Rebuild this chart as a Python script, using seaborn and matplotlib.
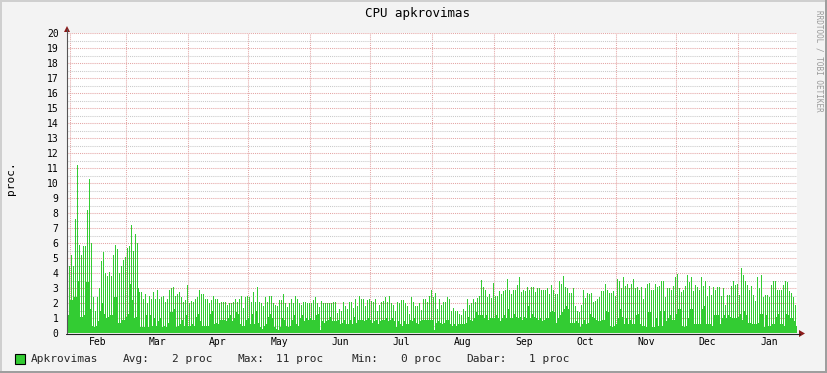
import numpy as np
import pandas as pd
import matplotlib
matplotlib.use("Agg")
import matplotlib.pyplot as plt
from matplotlib.patches import Rectangle, Polygon
import seaborn as sns

# ---------------- data (daily peak / daily base, in "proc") ----------------
peaks_feb_mar = [0.75, 4.5, 5.2, 4.5, 7.6, 11.2, 5.9, 5.2, 5.8, 5.8, 8.2, 10.3, 6.0, 2.4, 1.5, 2.4, 3.0, 4.8, 5.4, 4.0,
                 3.8, 4.1, 3.8, 5.2, 5.9, 5.6, 4.0, 4.5, 4.9, 5.1, 5.7, 5.8, 7.2, 5.5, 6.6, 6.0, 2.75, 2.75, 2.3, 2.6,
                 2.0, 2.5, 2.3, 2.75, 2.3, 2.9, 2.3, 2.4, 2.5, 2.1, 2.3, 2.9, 3.0, 3.1, 2.5, 2.6, 2.75, 2.4, 2.1, 2.2]
peaks_apr_may = [3.2, 2.0, 2.15, 2.1, 2.25, 2.4, 2.9, 2.6, 2.6, 2.25, 2.3, 2.0, 2.2, 2.5, 2.25, 2.3, 2.0, 2.1, 2.05, 2.1,
                 1.9, 2.0, 2.0, 2.05, 2.25, 2.1, 2.3, 2.5, 1.65, 2.4, 2.5, 2.4, 2.1, 2.75, 2.1, 3.1, 2.05, 2.0, 1.8, 2.4,
                 2.1, 2.5, 2.5, 2.0, 1.85, 1.8, 2.2, 2.2, 2.6, 2.0, 1.75, 2.0, 2.25, 2.0, 2.5, 2.25, 2.0, 1.9, 2.05, 2.05]
peaks_jun_jul = [2.0, 2.0, 2.0, 2.2, 2.4, 2.0, 1.75, 2.15, 2.0, 2.0, 2.0, 2.0, 2.0, 2.05, 2.1, 1.35, 1.6, 1.5, 2.05, 1.8,
                 1.6, 2.05, 2.05, 1.65, 2.25, 1.8, 2.5, 2.3, 2.25, 1.8, 2.2, 2.25, 2.15, 2.05, 2.25, 1.45, 1.85, 2.05, 2.15, 2.4,
                 2.1, 2.5, 2.0, 1.85, 1.45, 2.05, 2.0, 2.2, 2.2, 2.0, 1.8, 1.25, 2.4, 2.05, 1.8, 1.8, 2.0, 1.55, 2.25]
peaks_aug_sep = [2.25, 2.1, 2.5, 2.9, 2.4, 2.65, 1.6, 2.25, 1.85, 2.1, 2.05, 2.4, 2.25, 1.45, 1.65, 1.45, 1.5, 1.25, 1.2, 1.6,
                 1.45, 2.25, 1.85, 2.0, 2.3, 2.05, 2.35, 2.5, 3.55, 3.1, 2.85, 2.4, 2.6, 2.35, 3.35, 2.5, 2.5, 2.8, 2.6, 2.8,
                 2.9, 3.6, 2.9, 2.6, 2.9, 2.9, 3.2, 3.75, 2.75, 2.9, 2.8, 3.05, 2.85, 3.05, 3.05, 2.75, 3.0, 3.0, 2.9, 2.9]
peaks_oct_nov = [2.85, 3.0, 2.6, 3.2, 2.9, 2.6, 2.6, 3.45, 3.25, 3.8, 3.1, 3.0, 2.7, 2.65, 3.0, 1.8, 1.5, 1.4, 1.85, 2.85,
                 2.35, 2.65, 2.6, 2.65, 2.1, 2.15, 2.25, 2.4, 2.8, 2.8, 3.25, 2.9, 2.65, 2.7, 2.8, 2.5, 3.6, 3.5, 3.0, 3.75,
                 3.15, 3.25, 3.0, 3.25, 3.6, 3.0, 3.05, 2.9, 3.1, 2.25, 3.0, 3.25, 3.35, 2.9, 2.9, 3.3, 3.1, 3.15, 3.45, 3.5,
                 2.4]
peaks_dec_jan = [3.0, 3.0, 2.9, 3.15, 3.75, 3.95, 3.0, 2.75, 2.9, 3.15, 3.85, 3.4, 3.75, 2.8, 3.2, 3.1, 2.9, 3.75, 3.15, 3.5,
                 2.5, 3.15, 2.55, 3.05, 2.85, 3.05, 3.05, 2.5, 3.0, 1.9, 2.55, 2.55, 3.15, 3.5, 3.2, 3.25, 2.55, 4.35, 3.85, 3.45,
                 3.2, 2.9, 3.15, 2.55, 2.15, 3.75, 3.0, 3.85, 2.4, 2.55, 2.55, 2.4, 3.2, 3.5, 3.5, 2.85, 2.85, 2.85, 3.2, 3.5,
                 3.4, 2.8, 2.65, 2.4, 1.9]

base_feb_mar = [1.2, 2.2, 2.2, 2.4, 2.4, 3.5, 1.1, 1.1, 1.2, 3.4, 3.4, 1.6, 0.5, 0.4, 0.5, 0.8, 1.5, 2.0, 1.3, 1.0,
                1.1, 1.2, 1.2, 2.4, 2.4, 0.7, 0.7, 0.9, 0.9, 1.1, 1.3, 3.3, 2.2, 1.0, 1.1, 3.0, 0.4, 0.4, 0.4, 1.2,
                0.4, 1.2, 0.5, 1.0, 0.5, 0.8, 1.0, 0.4, 0.5, 0.4, 0.7, 1.4, 1.4, 1.6, 0.4, 0.5, 0.6, 0.9, 0.5, 1.2]
base_apr_may = [0.5, 0.5, 0.6, 0.5, 1.1, 1.3, 0.8, 0.5, 0.5, 0.5, 0.5, 1.3, 1.5, 0.6, 0.7, 0.6, 0.9, 0.9, 0.9, 0.8,
                1.0, 1.2, 0.8, 1.0, 1.4, 1.3, 0.6, 0.5, 0.5, 0.9, 1.0, 0.6, 1.3, 0.6, 1.5, 0.7, 0.4, 0.3, 0.5, 0.6,
                1.1, 1.3, 1.0, 0.4, 0.3, 0.2, 0.4, 1.0, 0.9, 0.5, 0.4, 0.5, 0.9, 1.2, 0.6, 0.5, 1.0, 1.2, 0.8, 1.0]
base_jun_jul = [0.9, 1.0, 0.9, 0.9, 1.2, 1.3, 0.2, 0.8, 0.7, 0.8, 0.9, 1.1, 0.8, 0.8, 0.8, 0.9, 0.6, 0.7, 0.9, 0.6,
                0.6, 0.9, 0.6, 1.1, 0.7, 0.9, 0.9, 0.9, 0.8, 0.9, 1.0, 0.9, 0.7, 0.8, 0.9, 0.6, 0.8, 0.9, 0.9, 1.0,
                0.8, 0.9, 1.0, 0.8, 0.4, 0.8, 0.6, 0.5, 0.8, 0.6, 0.6, 0.9, 0.8, 1.0, 0.7, 0.6, 0.8, 0.9, 0.9]
base_aug_sep = [0.9, 0.9, 0.9, 0.9, 0.2, 0.7, 0.8, 0.7, 0.6, 0.7, 0.9, 0.9, 0.6, 0.5, 0.6, 0.5, 0.6, 0.6, 0.6, 0.6,
                0.7, 1.1, 0.9, 0.8, 1.0, 1.4, 1.2, 1.2, 1.2, 1.0, 1.2, 0.9, 1.0, 1.0, 1.0, 1.2, 1.0, 0.8, 1.0, 1.2,
                1.0, 1.6, 1.0, 1.0, 1.3, 1.1, 1.0, 1.1, 0.9, 1.1, 1.0, 1.8, 1.0, 1.3, 1.1, 1.0, 0.9, 1.0, 0.8, 0.9]
base_oct_nov = [1.0, 1.0, 1.4, 1.5, 1.4, 0.7, 1.0, 1.2, 1.4, 1.6, 1.8, 1.6, 0.7, 0.7, 0.7, 0.8, 0.7, 0.4, 0.6, 0.9,
                0.6, 0.7, 1.3, 1.1, 1.0, 0.9, 0.8, 0.8, 0.9, 0.9, 1.5, 1.4, 0.5, 0.4, 0.5, 0.6, 1.0, 1.6, 1.1, 0.6,
                1.0, 0.6, 0.9, 0.6, 0.6, 1.2, 1.3, 0.6, 0.5, 0.5, 0.4, 1.4, 1.4, 0.4, 0.4, 1.0, 0.5, 1.5, 0.5, 1.5,
                0.8]
base_dec_jan = [1.0, 1.2, 0.9, 0.9, 1.3, 1.6, 1.6, 0.5, 0.4, 0.5, 1.0, 1.6, 1.6, 0.6, 0.6, 0.6, 0.6, 1.6, 1.8, 0.6,
                0.6, 0.6, 0.5, 1.2, 1.2, 1.2, 0.6, 1.0, 1.2, 1.0, 1.2, 1.1, 1.0, 1.0, 1.0, 1.1, 1.3, 0.9, 1.5, 1.2,
                0.7, 0.7, 0.6, 0.6, 0.6, 0.7, 1.3, 1.3, 0.4, 1.2, 0.5, 0.5, 0.6, 0.6, 1.1, 1.3, 0.6, 0.6, 0.5, 1.3,
                1.2, 1.0, 1.0, 0.8, 0.5]

month_labels = ["Feb", "Mar", "Apr", "May", "Jun", "Jul", "Aug", "Sep", "Oct", "Nov", "Dec", "Jan"]
month_start_day = [0, 28, 59, 89, 120, 150, 181, 212, 242, 273, 303, 334, 365]  # days since Feb 1
first_day = -1.5          # data begins 1.5 days before Feb 1
y_ticks = list(range(0, 21))

legend_name = "Apkrovimas"
legend_stats = [("Avg:", "2 proc"), ("Max:", "11 proc"), ("Min:", "0 proc"), ("Dabar:", "1 proc")]

# ---------------- build frame ----------------
peaks = np.array(peaks_feb_mar + peaks_apr_may + peaks_jun_jul + peaks_aug_sep + peaks_oct_nov + peaks_dec_jan)
bases = np.array(base_feb_mar + base_apr_may + base_jun_jul + base_aug_sep + base_oct_nov + base_dec_jan)
n = min(len(peaks), len(bases))
peaks, bases = peaks[:n], bases[:n]
day = first_day + np.arange(n)
df = pd.DataFrame({"x": np.concatenate([day + 0.25, day + 0.75]),
                   "y": np.concatenate([peaks, bases])})

# ---------------- styling ----------------
sns.set_style("white")
plt.rcParams["font.family"] = ["DejaVu Sans Mono", "DejaVu Sans"]

W, H = 827, 373
BG = "#F3F3F3"
GREEN = "#33CC33"
MGRID = "#E4A5A5"
GRID = "#C9C9C9"
ARROW = "#8B1A1A"

fig = plt.figure(figsize=(W / 100, H / 100), dpi=100, facecolor=BG)
ax = fig.add_axes([67 / W, 40 / H, 730 / W, 300 / H])
ax.set_facecolor("white")

sns.barplot(data=df, x="x", y="y", native_scale=True, width=1.0, color=GREEN,
            saturation=1, errorbar=None, ax=ax)
for p in ax.patches:
    p.set_edgecolor("none")
    p.set_linewidth(0)
    p.set_facecolor(GREEN)
    p.set_antialiased(False)

ax.set_xlim(first_day, first_day + n)
ax.set_ylim(0, 20)
ax.set_xlabel("")
ax.set_ylabel("")

# ticks
ax.set_xticks(month_start_day[:-1], labels=[""] * len(month_labels))
mids = [(a + b) / 2 for a, b in zip(month_start_day[:-1], month_start_day[1:])]
ax.set_xticks(mids, labels=month_labels, minor=True)
ax.set_yticks(y_ticks, labels=[str(v) for v in y_ticks])
ax.set_yticks([v + 0.5 for v in y_ticks[:-1]], minor=True)

ax.tick_params(axis="x", which="major", length=2, width=0.8, color=MGRID, direction="out")
ax.tick_params(axis="x", which="minor", length=0, pad=3, labelsize=7, labelcolor="black")
ax.tick_params(axis="y", which="major", length=2, width=0.8, color=MGRID, direction="out",
               pad=4, labelsize=7, labelcolor="black")
ax.tick_params(axis="y", which="minor", length=2, width=0.8, color=GRID, direction="out")

ax.set_axisbelow(True)
ax.grid(True, which="major", axis="both", color=MGRID, linestyle=(0, (1, 1)), linewidth=0.75)
ax.yaxis.grid(True, which="minor", color=GRID, linestyle=(0, (1, 1)), linewidth=0.75)
ax.xaxis.grid(False, which="minor")

for s in ax.spines.values():
    s.set_visible(False)


def fp(x, y):
    return (x / W, 1 - y / H)


# axes lines + arrows
fig.add_artist(plt.Line2D([67 / W, 67 / W], [1 - 333 / H, 1 - 29 / H], color="#555555", lw=0.8))
fig.add_artist(plt.Line2D([66 / W, 800 / W], [1 - 333.5 / H, 1 - 333.5 / H], color="#222222", lw=0.8))
fig.add_artist(Polygon([fp(64, 32), fp(70, 32), fp(67, 26)], closed=True, color=ARROW, lw=0))
fig.add_artist(Polygon([fp(799, 330), fp(799, 337), fp(805, 333.5)], closed=True, color=ARROW, lw=0))

# texts
fig.text(417 / W, 1 - 13 / H, "CPU apkrovimas", ha="center", va="center", fontsize=9, color="black")
fig.text(11 / W, 1 - 178 / H, "proc.", ha="center", va="center", rotation=90, fontsize=8, color="black")
fig.text(819 / W, 1 - 61 / H, "RRDTOOL / TOBI OETIKER", ha="center", va="center", rotation=270,
         fontsize=5.5, color="#9A9A9A")

# legend
fig.add_artist(Rectangle(fp(15, 364), 10 / W, 10 / H, facecolor=GREEN, edgecolor="black", lw=0.8))
ly = 1 - 359 / H
fig.text(31 / W, ly, legend_name, ha="left", va="center", fontsize=8)
stat_pos = [(123, 172), (237, 276), (351, 401), (466, 529)]
for (lab, val), (xl, xv) in zip(legend_stats, stat_pos):
    fig.text(xl / W, ly, lab, ha="left", va="center", fontsize=8)
    fig.text(xv / W, ly, val, ha="left", va="center", fontsize=8)

# 3D frame
fig.add_artist(Rectangle((0, 1 - 2 / H), 1, 2 / H, facecolor="#CFCFCF", lw=0))
fig.add_artist(Rectangle((0, 0), 2 / W, 1, facecolor="#CFCFCF", lw=0))
fig.add_artist(Rectangle((0, 0), 1, 2 / H, facecolor="#9E9E9E", lw=0))
fig.add_artist(Rectangle((1 - 2 / W, 0), 2 / W, 1, facecolor="#9E9E9E", lw=0))

fig.savefig("out.png", dpi=100, facecolor=BG)
